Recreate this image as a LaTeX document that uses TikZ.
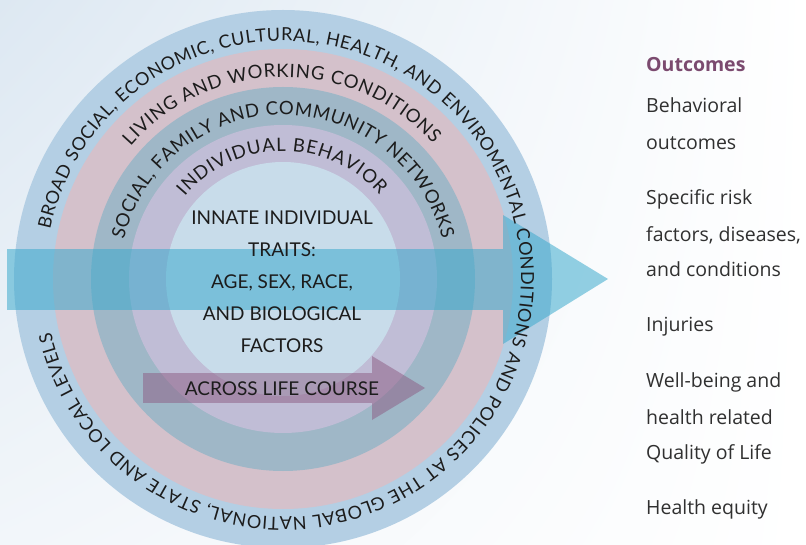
\documentclass[tikz,border=0pt]{standalone}
\usepackage{fontspec}
\setmainfont{Lato}
\newfontfamily\outfont{Open Sans}
\usetikzlibrary{decorations.text,shadings}

\definecolor{bgtl}{HTML}{DDE8F2}
\definecolor{bgbl}{HTML}{F2F6FA}
\definecolor{ringout}{HTML}{B4CFE4}
\definecolor{ringliving}{HTML}{D4C1CB}
\definecolor{ringsocial}{HTML}{9FB7C7}
\definecolor{ringbehav}{HTML}{C0BDD6}
\definecolor{ringcore}{HTML}{C8DCEA}
\definecolor{flowblue}{HTML}{3CAACD}
\definecolor{lifepurple}{HTML}{8C5A82}
\definecolor{ink}{HTML}{1C1C1C}
\definecolor{outink}{HTML}{303030}
\definecolor{outhead}{HTML}{7B4A6F}

\newcommand\ringfont{\fontsize{18.5}{18.5}\selectfont}
\newcommand\outerfont{\fontsize{18}{18}\selectfont}

\begin{document}
\begin{tikzpicture}[x=1pt, y=1pt,
    ring label/.style={decorate, decoration={text along path, text color=ink,
        text align={fit to path}, text={#1}}},
    core text/.style={font=\fontsize{19}{32}\selectfont, text=ink, align=center, inner sep=0pt},
    outcome/.style={font=\outfont\fontsize{19.5}{19.5}\selectfont, text=outink,
        anchor=base west, inner sep=0pt},
    flow/.style={fill=flowblue, fill opacity=0.55, draw=none},
    life/.style={fill=lifepurple, fill opacity=0.5, draw=none}]

  \useasboundingbox (0,0) rectangle (806,544);
  \shade[upper left=bgtl, lower left=bgbl, upper right=white, lower right=white]
    (0,0) rectangle (806,544);

  % the rings, outside in
  \coordinate (c) at (283,265);
  \fill[ringout] (c) circle[radius=269];
  \fill[ringliving] (c) circle[radius=230];
  \fill[ringsocial] (c) circle[radius=192];
  \fill[ringbehav] (c) circle[radius=154];
  \fill[ringcore] (c) circle[radius=117];

  % big arrow towards the outcomes
  \coordinate (flow sw) at (7,234);
  \coordinate (flow ne) at (503,295);
  \coordinate (head top) at (503,329);
  \coordinate (head tip) at (608,265);
  \coordinate (head bot) at (503,200);
  \fill[flow] (flow sw) rectangle (flow ne);
  \fill[flow] (head top) -- (head tip) -- (head bot) -- cycle;

  % life course arrow
  \coordinate (life sw) at (143,141);
  \coordinate (life ne) at (372,171);
  \coordinate (life top) at (372,188);
  \coordinate (life tip) at (425,156);
  \coordinate (life bot) at (372,124);
  \fill[life] (life sw) rectangle (life ne);
  \fill[life] (life top) -- (life tip) -- (life bot) -- cycle;

  % labels along the rings
  \path[ring label={|\outerfont|BROAD SOCIAL, ECONOMIC, CULTURAL, HEALTH, AND ENVIROMENTAL CONDITIONS AND POLICES AT THE GLOBAL NATIONAL, STATE AND LOCAL LEVELS}]
    (c) ++(168:238) arc[start angle=168, end angle=-167, radius=238];
  \path[ring label={|\ringfont|LIVING AND WORKING CONDITIONS}]
    (c) ++(139:202) arc[start angle=139, end angle=42, radius=202];
  \path[ring label={|\ringfont|SOCIAL, FAMILY AND COMMUNITY NETWORKS}]
    (c) ++(166:164) arc[start angle=166, end angle=14, radius=164];
  \path[ring label={|\ringfont|INDIVIDUAL BEHAVIOR}]
    (c) ++(140:128) arc[start angle=140, end angle=41, radius=128];

  \node[core text] (traits) at (282,262)
    {INNATE INDIVIDUAL\\TRAITS:\\AGE, SEX, RACE,\\AND BIOLOGICAL\\FACTORS};
  \node[core text, anchor=base] (lifecourse) at (282,149) {ACROSS LIFE COURSE};

  % outcomes column
  \node[outcome, font=\outfont\bfseries\fontsize{19.5}{19.5}\selectfont, text=outhead]
    (outcomes) at (646,472) {Outcomes};
  \node[outcome] (behav a) at (646,431) {Behavioral};
  \node[outcome] (behav b) at (646,394) {outcomes};
  \node[outcome] (risk a) at (646,339) {Specific risk};
  \node[outcome] (risk b) at (646,302) {factors, diseases,};
  \node[outcome] (risk c) at (646,267) {and conditions};
  \node[outcome] (injury) at (646,212) {Injuries};
  \node[outcome] (well a) at (646,157) {Well-being and};
  \node[outcome] (well b) at (646,120) {health related};
  \node[outcome] (well c) at (646,85) {Quality of Life};
  \node[outcome] (equity) at (646,30) {Health equity};
\end{tikzpicture}
\end{document}
